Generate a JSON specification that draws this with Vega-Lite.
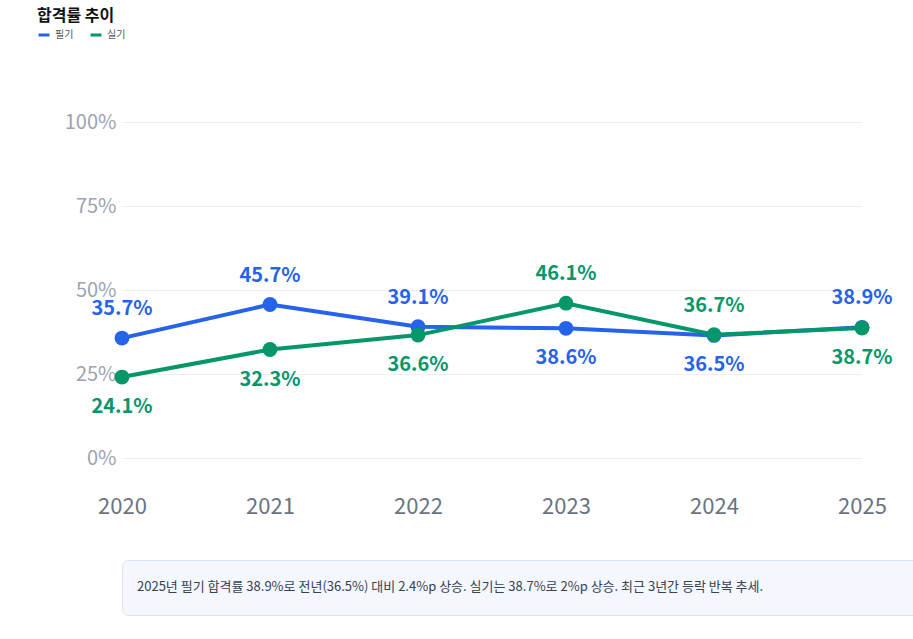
{
"$schema":"https://vega.github.io/schema/vega-lite/v6.json",
"padding":{"left":37,"top":8,"right":10,"bottom":4},
"title":{"text":"합격률 추이","anchor":"start","fontSize":16,"fontWeight":"bold","color":"#111","font":"Noto Sans CJK KR","offset":4},
"config":{"font":"Noto Sans CJK KR","view":{"stroke":null}},
"spacing":42,
"vconcat":[
{"width":740,"height":403,
"data":{"values":[
{"year":"2020","type":"필기","rate":35.7},{"year":"2021","type":"필기","rate":45.7},{"year":"2022","type":"필기","rate":39.1},{"year":"2023","type":"필기","rate":38.6},{"year":"2024","type":"필기","rate":36.5},{"year":"2025","type":"필기","rate":38.9},
{"year":"2020","type":"실기","rate":24.1},{"year":"2021","type":"실기","rate":32.3},{"year":"2022","type":"실기","rate":36.6},{"year":"2023","type":"실기","rate":46.1},{"year":"2024","type":"실기","rate":36.7},{"year":"2025","type":"실기","rate":38.7}]},
"transform":[{"joinaggregate":[{"op":"max","field":"rate","as":"mx"}],"groupby":["year"]},{"calculate":"format(datum.rate,'.1f') + '%'","as":"lbl"}],
"encoding":{
"x":{"field":"year","type":"ordinal","scale":{"type":"point","padding":0},"axis":{"title":null,"labelAngle":0,"labelFontSize":22,"labelColor":"#6b7280","labelPadding":38,"domain":false,"ticks":false,"grid":false}},
"y":{"field":"rate","type":"quantitative","scale":{"domain":[0,120]},"axis":{"title":null,"values":[0,25,50,75,100],"labelExpr":"datum.value + '%'","labelFontSize":20,"labelColor":"#9ca3af","domain":false,"ticks":false,"gridColor":"#eceef2","minExtent":85,"maxExtent":85,"labelPadding":6}},
"color":{"field":"type","type":"nominal","scale":{"domain":["필기","실기"],"range":["#2563eb","#059669"]},"legend":{"title":null,"orient":"none","legendX":-85,"legendY":-27,"direction":"horizontal","symbolType":"stroke","symbolStrokeWidth":3,"symbolSize":120,"labelFontSize":10,"labelColor":"#555","columnPadding":10}}
},
"layer":[
{"mark":{"type":"line","strokeWidth":4}},
{"mark":{"type":"point","filled":true,"opacity":1,"size":220}},
{"transform":[{"filter":"datum.rate < datum.mx"}],"mark":{"type":"text","dy":30,"fontSize":20,"fontWeight":"bold"},"encoding":{"text":{"field":"lbl"}}},
{"transform":[{"filter":"datum.rate >= datum.mx"}],"mark":{"type":"text","dy":-29,"fontSize":20,"fontWeight":"bold"},"encoding":{"text":{"field":"lbl"}}}
]},
{"width":861,"height":55,
"view":{"fill":"#f4f7fe","stroke":"#d9e2f5","cornerRadius":6},
"data":{"values":[{"note":"2025년 필기 합격률 38.9%로 전년(36.5%) 대비 2.4%p 상승. 실기는 38.7%로 2%p 상승. 최근 3년간 등락 반복 추세."}]},
"mark":{"type":"text","align":"left","baseline":"middle","fontSize":13,"color":"#374151"},
"encoding":{"text":{"field":"note"},"x":{"value":15},"y":{"value":27}}}
]}
